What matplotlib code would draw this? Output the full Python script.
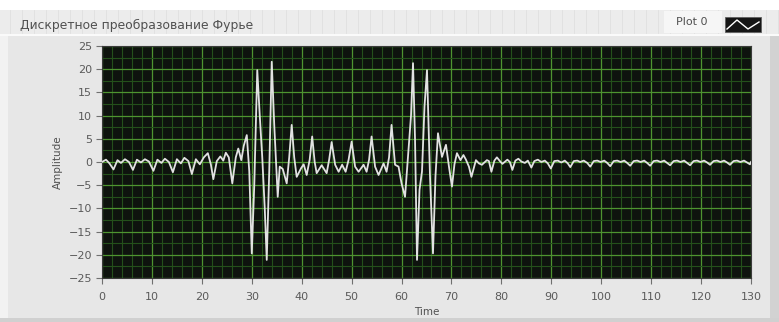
import matplotlib
matplotlib.use("Agg")
import matplotlib.pyplot as plt
from matplotlib.patches import Rectangle
from matplotlib.lines import Line2D

# ---- data ----
time = [0.0, 0.8, 1.5, 2.3, 3.1, 3.8, 4.6, 5.4, 6.2, 7.0, 7.8, 8.6, 9.4, 10.3, 11.1, 11.9,
        12.6, 13.4, 14.2, 15.0, 15.8, 16.5, 17.3, 18.0, 18.8, 19.6, 20.4, 21.2, 21.8, 22.3,
        23.0, 23.7, 24.3, 24.8, 25.4, 26.1, 26.8, 27.3, 27.9, 28.4, 29.0, 29.5, 30.0, 30.5,
        31.1, 31.6, 32.1, 32.6, 33.0, 33.5, 34.0, 34.5, 35.2, 35.6, 36.2, 37.0, 37.5, 38.0,
        38.5, 39.0, 39.9, 40.4, 41.0, 41.6, 42.1, 42.6, 43.0, 44.0, 45.0, 45.5, 46.0, 46.7,
        47.4, 48.1, 48.8, 49.4, 50.0, 50.7, 51.4, 52.4, 53.0, 53.5, 54.0, 54.7, 55.4, 56.4,
        57.0, 57.5, 58.0, 58.7, 59.4, 60.0, 60.7, 61.4, 61.9, 62.3, 62.7, 63.1, 63.6, 64.1,
        64.6, 65.1, 65.7, 66.3, 66.8, 67.3, 68.1, 68.9, 69.5, 70.1, 70.6, 71.1, 71.8, 72.4,
        72.9, 73.5, 74.0, 74.9, 75.5, 76.1, 77.1, 77.5, 78.0, 78.6, 79.1, 79.7, 80.2, 81.2,
        81.7, 82.2, 82.8, 83.4, 84.0, 84.7, 85.3, 86.0, 86.6, 87.3, 88.0, 88.7, 89.3, 89.9,
        90.6, 91.3, 92.0, 92.7, 93.3, 93.8, 94.5, 95.2, 95.8, 96.5, 97.2, 97.8, 98.5, 99.2,
        99.9, 100.6, 101.2, 101.8, 102.5, 103.2, 103.9, 104.6, 105.2, 105.8, 106.5, 107.2,
        107.9, 108.6, 109.2, 109.8, 110.5, 111.2, 111.9, 112.6, 113.2, 113.8, 114.5, 115.2,
        115.9, 116.6, 117.2, 117.8, 118.5, 119.2, 119.9, 120.6, 121.2, 121.8, 122.5, 123.2,
        123.9, 124.6, 125.2, 125.8, 126.5, 127.2, 127.9, 128.6, 129.2, 129.8, 130.0]
amplitude = [0.0, 0.5, -0.3, -1.6, 0.4, -0.2, 0.6, 0.0, -1.7, 0.5, -0.1, 0.6, 0.1, -1.9, 0.5, -0.2,
             0.7, 0.0, -2.2, 0.6, -0.3, 0.9, 0.2, -2.6, 0.6, -0.5, 1.0, 1.9, -0.5, -3.7,
             0.2, 1.2, 0.3, 2.0, 1.0, -4.6, 1.0, 2.9, 0.4, 3.5, 5.8, -2.0, -19.7, -5.0,
             19.8, 10.0, 1.0, -10.0, -21.1, -2.0, 21.6, 8.0, -7.5, -1.0, -1.5, -4.6, 1.0, 8.0,
             1.0, -3.2, -1.3, -0.5, -2.8, 0.5, 5.5, 0.0, -2.4, -0.7, -2.4, 0.5, 4.3, -0.6,
             -2.1, -0.6, -2.1, 0.5, 4.4, -1.0, -2.1, -0.6, -2.1, 0.5, 5.5, -1.0, -2.8, -0.3,
             -2.1, 1.0, 8.0, -0.6, -1.0, -4.6, -7.5, 2.6, 10.0, 21.3, 5.0, -21.1, -6.0, -2.0,
             12.0, 19.8, -3.0, -19.7, -3.0, 6.2, 1.1, 3.7, -1.0, -5.3, -0.5, 1.9, 0.4, 1.5,
             0.5, -1.0, -3.2, 0.4, -0.3, -0.6, 0.4, 0.2, -2.1, 0.3, 1.0, 0.2, -0.4, 0.5,
             0.0, -1.7, 0.3, 0.7, 0.1, -0.2, 0.3, -1.2, 0.2, 0.5, 0.0, 0.3, -0.3, -1.4,
             0.2, 0.3, -0.1, 0.3, -0.3, -1.1, 0.2, 0.3, 0.0, 0.3, -0.2, -1.0, 0.2, 0.3,
             0.0, 0.3, -0.2, -0.9, 0.2, 0.3, 0.0, 0.3, -0.2, -0.8, 0.2, 0.3,
             0.0, 0.3, -0.2, -0.8, 0.2, 0.3, 0.0, 0.3, -0.2, -0.7, 0.2, 0.3,
             0.0, 0.3, -0.2, -0.7, 0.2, 0.3, 0.0, 0.3, -0.1, -0.6, 0.2, 0.3,
             0.0, 0.3, -0.1, -0.6, 0.2, 0.3, 0.0, 0.3, -0.1, -0.5, 0.0]

x_ticks = list(range(0, 131, 10))
y_ticks = list(range(-25, 26, 5))
title = "Дискретное преобразование Фурье"
legend_label = "Plot 0"

W, H = 779, 322


def fx(x):
    return x / W


def fy(y):
    return 1 - y / H


fig = plt.figure(figsize=(W / 100, H / 100), dpi=100, facecolor="white")

# panel background
fig.patches.append(Rectangle((fx(0), fy(318)), fx(772), 308 / H, transform=fig.transFigure,
                             facecolor="#e7e7e7", edgecolor="none", zorder=0))
fig.patches.append(Rectangle((fx(0), fy(318)), fx(8), 308 / H, transform=fig.transFigure,
                             facecolor="#f2f2f2", edgecolor="none", zorder=0))
fig.patches.append(Rectangle((fx(770), fy(318)), fx(9), 308 / H, transform=fig.transFigure,
                             facecolor="#d2d2d2", edgecolor="none", zorder=0))
fig.patches.append(Rectangle((fx(0), fy(322)), fx(779), 4 / H, transform=fig.transFigure,
                             facecolor="#d0d0d0", edgecolor="none", zorder=0))
# title strip
fig.patches.append(Rectangle((fx(0), fy(34)), fx(779), 24 / H, transform=fig.transFigure,
                             facecolor="#ececec", edgecolor="none", zorder=0))
for gx in range(10, 779, 12):
    fig.lines.append(Line2D([fx(gx), fx(gx)], [fy(34), fy(10)], transform=fig.transFigure,
                            color="#e0e0e0", lw=0.6, zorder=0.5))
fig.lines.append(Line2D([0, 1], [fy(35), fy(35)], transform=fig.transFigure,
                        color="#fafafa", lw=1.5, zorder=0.5))

fig.text(fx(20), fy(25), title, fontsize=8.9, color="#505050", va="center", ha="left")

# legend
fig.patches.append(Rectangle((fx(664), fy(33)), 58 / W, 22 / H, transform=fig.transFigure,
                             facecolor="#f6f6f6", edgecolor="none", zorder=1))
fig.text(fx(692), fy(22), legend_label, fontsize=8, color="#505050", va="center", ha="center")
fig.patches.append(Rectangle((fx(725), fy(32)), 36 / W, 15 / H, transform=fig.transFigure,
                             facecolor="#151515", edgecolor="#606060", lw=0.6, zorder=1))
fig.lines.append(Line2D([fx(727), fx(737), fx(748), fx(759)], [fy(29), fy(20), fy(29), fy(22)],
                        transform=fig.transFigure, color="white", lw=1.0, zorder=2))

ax = fig.add_axes([fx(102), fy(278), (751 - 102) / W, (278 - 46) / H])
ax.set_zorder(5)
ax.set_facecolor("#0e130e")
ax.plot(time, amplitude, color="#e2e2e2", lw=1.3, zorder=3)
ax.set_xlim(0, 130)
ax.set_ylim(-25, 25)
ax.set_xticks(x_ticks)
ax.set_yticks(y_ticks)
ax.set_xticks([v for v in range(0, 131, 2)], minor=True)
ax.set_yticks([v * 2.5 for v in range(-10, 11)], minor=True)
ax.grid(which="minor", color="#24501b", lw=0.8, zorder=1)
ax.grid(which="major", color="#4e9430", lw=0.9, zorder=2)
ax.set_axisbelow(True)
ax.tick_params(which="minor", length=0)
ax.tick_params(which="major", length=4, width=0.8, color="#707070", labelsize=8,
               labelcolor="#5a5a5a", pad=3)
ax.tick_params(axis="x", which="major", pad=6)
for s in ax.spines.values():
    s.set_color("#3a3a3a")
    s.set_linewidth(0.8)
ax.set_xlabel("Time", fontsize=7.5, color="#505050", labelpad=4)
ax.set_ylabel("Amplitude", fontsize=7.5, color="#505050", labelpad=4)

fig.savefig("out.png", dpi=100, facecolor=fig.get_facecolor())
